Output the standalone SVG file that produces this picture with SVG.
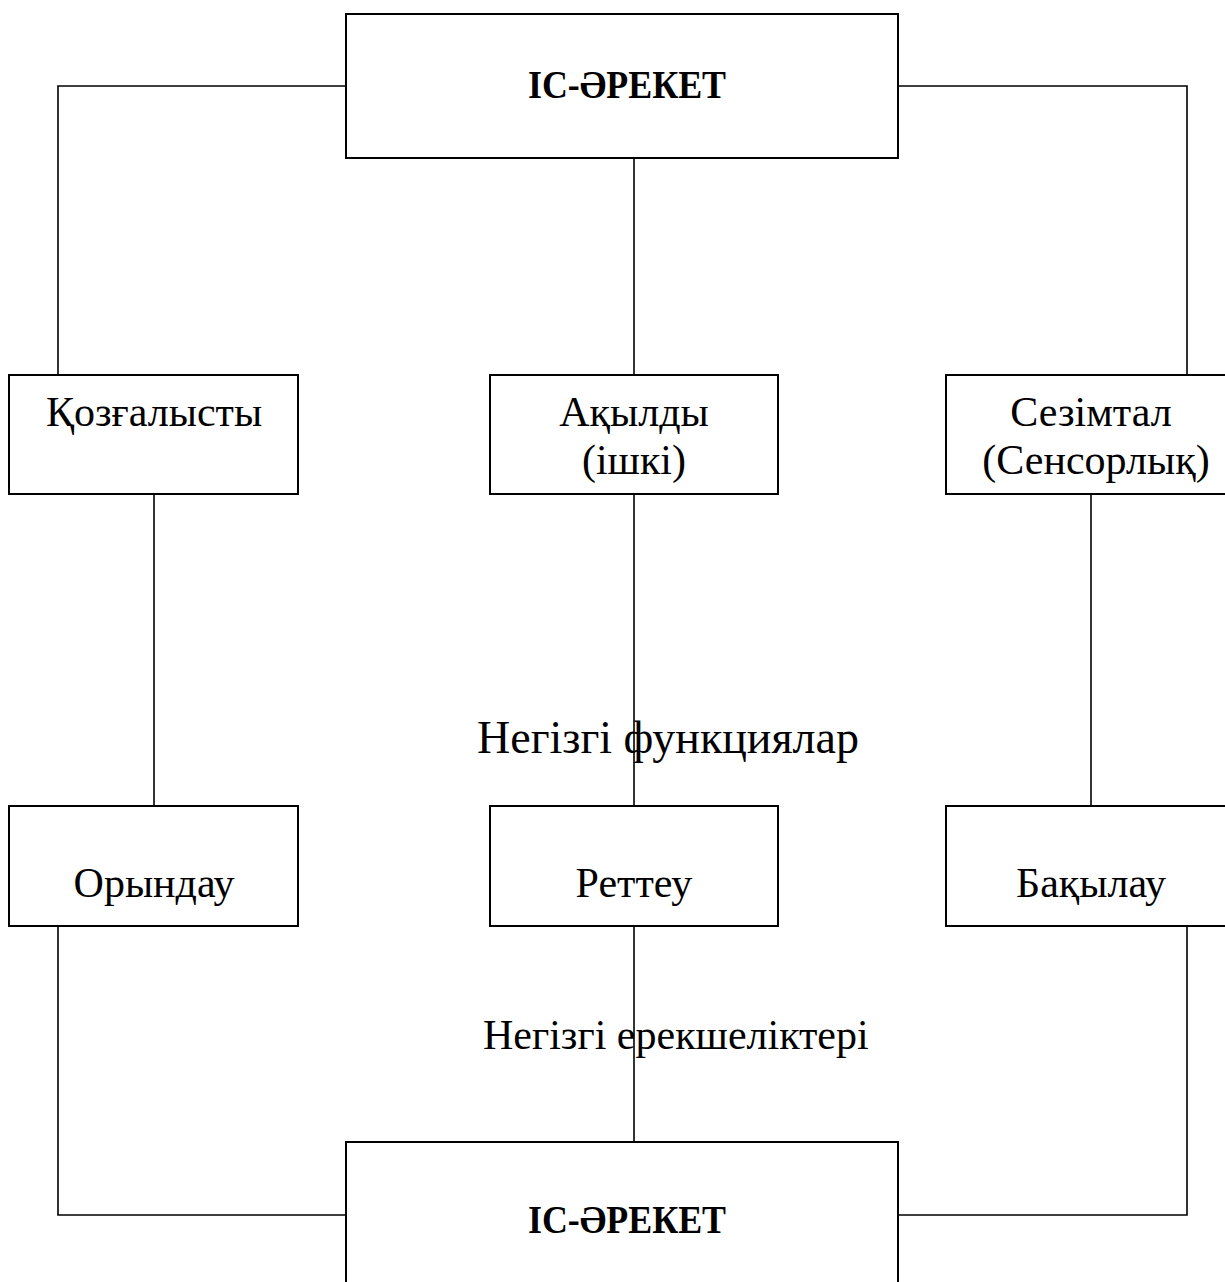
<svg xmlns="http://www.w3.org/2000/svg" width="1225" height="1282" viewBox="0 0 1225 1282">
<style>
.box{fill:#fff;stroke:#000;stroke-width:2}
.con{fill:none;stroke:#000;stroke-width:1.6}
text{font-family:"Liberation Serif","Times New Roman",serif;fill:#000}
.t{font-size:42px;text-anchor:middle}
.b{font-size:39px;font-weight:bold;text-anchor:middle}
</style>
<rect width="1225" height="1282" fill="#fff"/>
<g id="connectors">
<path class="con" d="M346,86 H58 V375"/>
<path class="con" d="M898,86 H1187 V375"/>
<path class="con" d="M634,158 V375"/>
<path class="con" d="M154,494 V806"/>
<path class="con" d="M634,494 V806"/>
<path class="con" d="M1091,494 V806"/>
<path class="con" d="M58,926 V1215 H346"/>
<path class="con" d="M634,926 V1142"/>
<path class="con" d="M1187,926 V1215 H898"/>
</g>
<g id="label-functions"><text x="477" y="753" style="font-size:46px">Негізгі функциялар</text></g>
<g id="label-features"><text x="483" y="1049" style="font-size:42px">Негізгі ерекшеліктері</text></g>
<g id="top"><rect class="box" x="346" y="14" width="552" height="144"/><text class="b" x="627" y="98" textLength="198" lengthAdjust="spacingAndGlyphs">ІС-ӘРЕКЕТ</text></g>
<g id="motor"><rect class="box" x="9" y="375" width="289" height="119"/><text class="t" x="154" y="426">Қозғалысты</text></g>
<g id="mental"><rect class="box" x="490" y="375" width="288" height="119"/><text class="t" x="634" y="426">Ақылды</text><text class="t" x="634" y="474">(ішкі)</text></g>
<g id="sensory"><rect class="box" x="946" y="375" width="284" height="119"/><text class="t" x="1091" y="426">Сезімтал</text><text class="t" x="1096" y="474">(Сенсорлық)</text></g>
<g id="execute"><rect class="box" x="9" y="806" width="289" height="120"/><text class="t" x="154" y="897">Орындау</text></g>
<g id="regulate"><rect class="box" x="490" y="806" width="288" height="120"/><text class="t" x="634" y="897">Реттеу</text></g>
<g id="control"><rect class="box" x="946" y="806" width="284" height="120"/><text class="t" x="1091" y="897">Бақылау</text></g>
<g id="bottom"><rect class="box" x="346" y="1142" width="552" height="150"/><text class="b" x="627" y="1233" textLength="198" lengthAdjust="spacingAndGlyphs">ІС-ӘРЕКЕТ</text></g>
</svg>
